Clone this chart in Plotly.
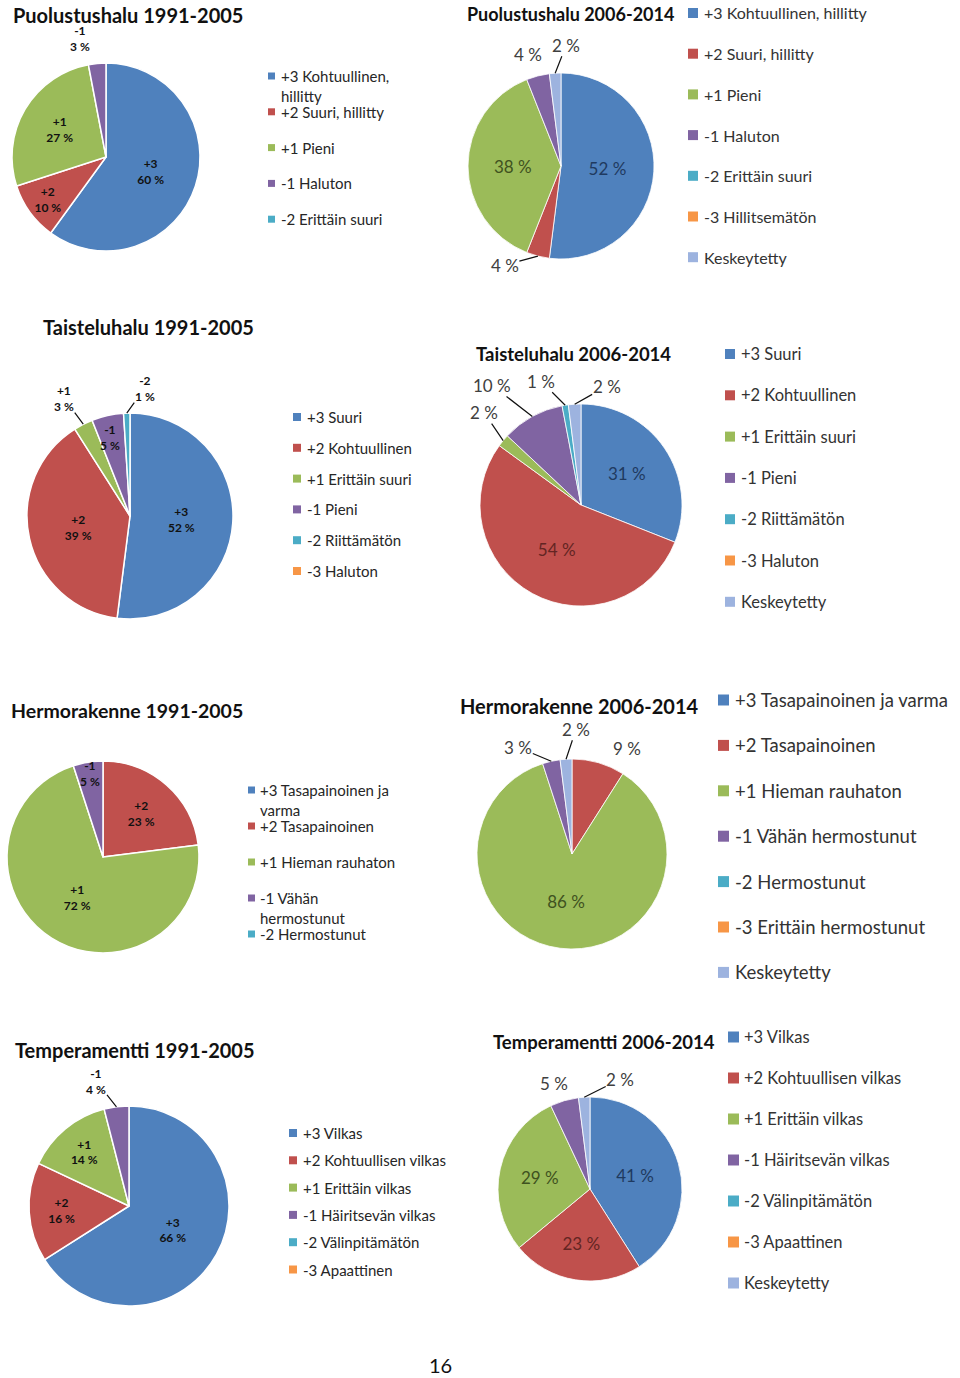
import math
import textwrap
import plotly.graph_objects as go

W, H = 960, 1378

# Puolustushalu
puol_labels_91 = ["+3 Kohtuullinen, hillitty", "+2 Suuri, hillitty", "+1 Pieni",
                  "-1 Haluton", "-2 Erittäin suuri"]
puol_values_91 = [60, 10, 27, 3, 0]
puol_labels_06 = ["+3 Kohtuullinen, hillitty", "+2 Suuri, hillitty", "+1 Pieni",
                  "-1 Haluton", "-2 Erittäin suuri", "-3 Hillitsemätön", "Keskeytetty"]
puol_values_06 = [52, 4, 38, 4, 0, 0, 2]

# Taisteluhalu
tais_labels_91 = ["+3 Suuri", "+2 Kohtuullinen", "+1 Erittäin suuri", "-1 Pieni",
                  "-2 Riittämätön", "-3 Haluton"]
tais_values_91 = [52, 39, 3, 5, 1, 0]
tais_labels_06 = tais_labels_91 + ["Keskeytetty"]
tais_values_06 = [31, 54, 2, 10, 1, 0, 2]

# Hermorakenne
herm_labels_91 = ["+3 Tasapainoinen ja varma", "+2 Tasapainoinen", "+1 Hieman rauhaton",
                  "-1 Vähän hermostunut", "-2 Hermostunut"]
herm_values_91 = [0, 23, 72, 5, 0]
herm_labels_06 = herm_labels_91 + ["-3 Erittäin hermostunut", "Keskeytetty"]
herm_values_06 = [0, 9, 86, 3, 0, 0, 2]

# Temperamentti
temp_labels_91 = ["+3 Vilkas", "+2 Kohtuullisen vilkas", "+1 Erittäin vilkas",
                  "-1 Häiritsevän vilkas", "-2 Välinpitämätön", "-3 Apaattinen"]
temp_values_91 = [66, 16, 14, 4, 0, 0]
temp_labels_06 = temp_labels_91 + ["Keskeytetty"]
temp_values_06 = [41, 23, 29, 5, 0, 0, 2]

colors = ["#4F81BD", "#C0504D", "#9BBB59", "#8064A2", "#4BACC6", "#F79646", "#9DB3DF"]
dark = ["#1F3A60", "#632523", "#3F5220", "#3F3151", "#205867", "#974806", "#333F5F"]

FONT = "Lato"


def fx(p):
    return min(max(p / W, 0), 1)


def fy(p):
    return min(max(1 - p / H, 0), 1)


# notes: slices labelled beside the pie, {category index: (dx, dy, leader line)}
panels = [
    dict(title="Puolustushalu 1991-2005", labels=puol_labels_91, values=puol_values_91, old=True,
         tx=12, ty=15, ts=20, cx=106, cy=157, r=94,
         lx=268, ly=76, step=35.8, fs=15, sq=7, gap=5, wrap=19,
         notes={3: (-17, -25, False)}),
    dict(title="Puolustushalu 2006-2014", labels=puol_labels_06, values=puol_values_06, old=False,
         tx=466, ty=14, ts=18, cx=561, cy=166, r=93,
         lx=688, ly=13, step=40.7, fs=16, sq=10, gap=5, wrap=None,
         notes={1: (-33, 9, True), 3: (-10, -21, False), 6: (11, -28, True)}),
    dict(title="Taisteluhalu 1991-2005", labels=tais_labels_91, values=tais_values_91, old=True,
         tx=42, ty=327, ts=20, cx=130, cy=516, r=103,
         lx=293, ly=417, step=30.8, fs=15, sq=8, gap=5, wrap=None,
         notes={2: (-19, -26, True), 3: (2, 22, False), 4: (18, -25, True)}),
    dict(title="Taisteluhalu 2006-2014", labels=tais_labels_06, values=tais_values_06, old=False,
         tx=475, ty=354, ts=18.5, cx=581, cy=505, r=101,
         lx=725, ly=354, step=41.3, fs=16.5, sq=10, gap=5, wrap=None,
         notes={2: (-19, -28, True), 3: (-40, -31, True), 4: (-24, -24, True),
                6: (32, -18, True)}),
    dict(title="Hermorakenne 1991-2005", labels=herm_labels_91, values=herm_values_91, old=True,
         tx=10, ty=711, ts=19.5, cx=103, cy=857, r=96,
         lx=248, ly=790, step=36, fs=15, sq=7, gap=4, wrap=19,
         notes={3: (2, 11, False)}),
    dict(title="Hermorakenne 2006-2014", labels=herm_labels_06, values=herm_values_06, old=False,
         tx=459, ty=706, ts=20, cx=572, cy=854, r=95,
         lx=718, ly=700, step=45.4, fs=18.5, sq=11, gap=5, wrap=None,
         notes={1: (28, -14, False), 3: (-33, -14, True), 6: (10, -30, True)}),
    dict(title="Temperamentti 1991-2005", labels=temp_labels_91, values=temp_values_91, old=True,
         tx=14, ty=1050, ts=20, cx=129, cy=1206, r=100,
         lx=289, ly=1133, step=27.3, fs=15, sq=8, gap=5, wrap=None,
         notes={3: (-20, -25, True)}),
    dict(title="Temperamentti 2006-2014", labels=temp_labels_06, values=temp_values_06, old=False,
         tx=492, ty=1042, ts=18.5, cx=590, cy=1189, r=92,
         lx=728, ly=1037, step=41, fs=16.5, sq=11, gap=4, wrap=None,
         notes={3: (-10, -17, False), 6: (36, -18, True)}),
]

fig = go.Figure()
shapes = []
annotations = []

for p in panels:
    idx = [i for i, v in enumerate(p["values"]) if v > 0]
    vals = [p["values"][i] for i in idx]
    labs = [p["labels"][i] for i in idx]
    cols = [colors[i] for i in idx]
    pos = ["none" if i in p["notes"] else "inside" for i in idx]
    if p["old"]:
        codes = [p["labels"][i].split()[0] for i in idx]
        tmpl = "<b>%{text}<br>%{value} %</b>"
        tcol = ["#111111"] * len(vals)
        tsize = 12
        lw = 1.5
    else:
        codes = labs
        tmpl = "%{value} %"
        tcol = [dark[i] for i in idx]
        tsize = 17
        lw = 0.8
    fig.add_trace(go.Pie(
        labels=labs, values=vals, text=codes, texttemplate=tmpl,
        textposition=pos, insidetextorientation="horizontal",
        textfont=dict(family=FONT, size=tsize, color=tcol),
        marker=dict(colors=cols, line=dict(color="white", width=lw)),
        sort=False, direction="clockwise", rotation=0,
        hoverinfo="skip", showlegend=False,
        domain=dict(x=[fx(p["cx"] - p["r"]), fx(p["cx"] + p["r"])],
                    y=[fy(p["cy"] + p["r"]), fy(p["cy"] - p["r"])]),
    ))

    # labels for the thin slices, placed beside the middle of each slice's arc
    total = sum(p["values"])
    start = 0
    for i, v in enumerate(p["values"]):
        if v > 0 and i in p["notes"]:
            ang = 2 * math.pi * (start + v / 2) / total
            ex = p["cx"] + p["r"] * math.sin(ang)
            ey = p["cy"] - p["r"] * math.cos(ang)
            dx, dy, line = p["notes"][i]
            if p["old"]:
                txt = "<b>%s<br>%d %%</b>" % (p["labels"][i].split()[0], v)
                font = dict(family=FONT, size=12, color="#111111")
            else:
                txt = "%d %%" % v
                font = dict(family=FONT, size=17, color="#404040")
            if line:
                annotations.append(dict(
                    text=txt, x=fx(ex), y=fy(ey), ax=dx, ay=dy, xref="paper", yref="paper",
                    showarrow=True, arrowhead=0, arrowwidth=1.2, arrowcolor="#111111",
                    standoff=0, borderpad=0, font=font))
            else:
                annotations.append(dict(
                    text=txt, x=fx(ex + dx), y=fy(ey + dy), xref="paper", yref="paper",
                    xanchor="center", yanchor="middle", showarrow=False,
                    borderpad=0, font=font))
        start += v

    annotations.append(dict(
        text="<b>%s</b>" % p["title"], x=fx(p["tx"]), y=fy(p["ty"]),
        xref="paper", yref="paper", xanchor="left", yanchor="middle",
        showarrow=False, borderpad=0,
        font=dict(family=FONT, size=p["ts"], color="#111111")))

    fs = p["fs"]
    for i, lab in enumerate(p["labels"]):
        yc = p["ly"] + i * p["step"]
        s = p["sq"]
        shapes.append(dict(type="rect", xref="paper", yref="paper",
                           x0=fx(p["lx"]), x1=fx(p["lx"] + s),
                           y0=fy(yc + s / 2), y1=fy(yc - s / 2),
                           fillcolor=colors[i], line=dict(width=0)))
        lines = textwrap.wrap(lab, p["wrap"]) if p["wrap"] else [lab]
        ymid = yc + (len(lines) - 1) * fs * 1.3 / 2
        annotations.append(dict(
            text="<br>".join(lines), x=fx(p["lx"] + s + p["gap"]), y=fy(ymid),
            xref="paper", yref="paper", xanchor="left", yanchor="middle", align="left",
            showarrow=False, borderpad=0,
            font=dict(family=FONT, size=fs, color="#262626" if p["old"] else "#333333")))

annotations.append(dict(text="16", x=fx(440), y=0, xref="paper", yref="paper",
                        xanchor="center", yanchor="bottom", showarrow=False, borderpad=0,
                        font=dict(family=FONT, size=20, color="#111111")))

fig.update_layout(
    width=W, height=H,
    margin=dict(l=0, r=0, t=0, b=0),
    paper_bgcolor="white", plot_bgcolor="white",
    shapes=shapes, annotations=annotations,
)

# drop the page's default body margin so the figure fills the window
fig.write_html("out.html", config={"displayModeBar": False},
               post_script="document.body.style.margin = '0';")
